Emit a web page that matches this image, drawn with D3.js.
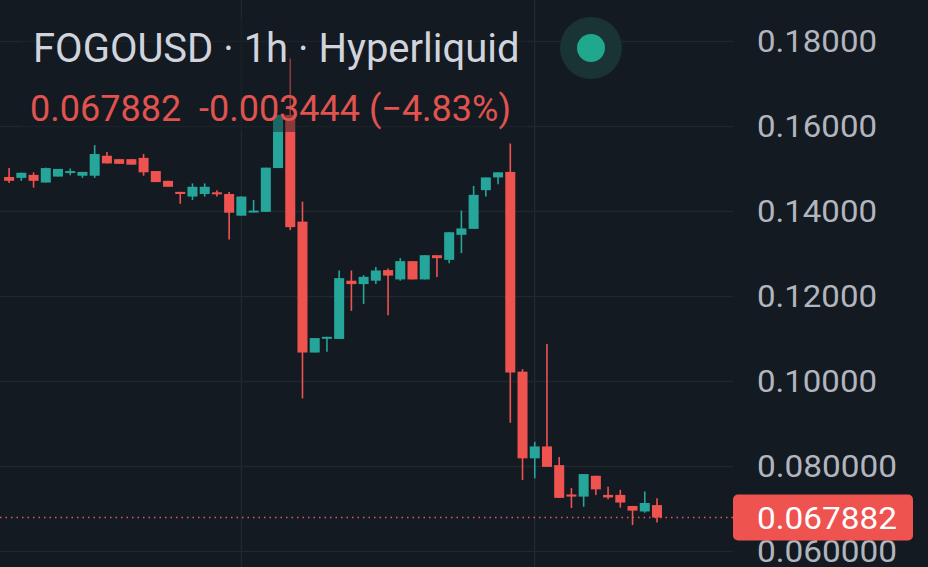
<!DOCTYPE html>
<html lang="en">
<head>
<meta charset="utf-8" />
<title>FOGOUSD 1h</title>
<script src="https://d3js.org/d3.v7.min.js"></script>
<style>
  html, body { margin: 0; padding: 0; background: #131a21; }
  svg { display: block; font-family: Roboto, 'Noto Sans', sans-serif; }
</style>
</head>
<body>
<svg id="chart" width="928" height="567"></svg>
<script>
// hourly candles
var opens = [0.1480, 0.1478, 0.1485, 0.1467, 0.1481, 0.1490, 0.1483, 0.1483, 0.1530, 0.1522,
             0.1522, 0.1525, 0.1494, 0.1471, 0.1445, 0.1434, 0.1440, 0.1444, 0.1440, 0.1389,
             0.1397, 0.1398, 0.1501, 0.1626, 0.1375, 0.1067, 0.1100, 0.1099, 0.1236, 0.1228,
             0.1236, 0.1261, 0.1239, 0.1282, 0.1239, 0.1296, 0.1285, 0.1344, 0.1358, 0.1449,
             0.1479, 0.1492, 0.1022, 0.0818, 0.0846, 0.0802, 0.0733, 0.0728, 0.0777, 0.0732,
             0.0732, 0.0706, 0.0693, 0.0708];
var highs = [0.1501, 0.1490, 0.1491, 0.1502, 0.1499, 0.1500, 0.1492, 0.1555, 0.1539, 0.1522,
             0.1522, 0.1534, 0.1494, 0.1471, 0.1445, 0.1465, 0.1465, 0.1449, 0.1445, 0.1434,
             0.1426, 0.1502, 0.1626, 0.1759, 0.1422, 0.1101, 0.1104, 0.1260, 0.1260, 0.1249,
             0.1268, 0.1265, 0.1289, 0.1282, 0.1296, 0.1296, 0.1350, 0.1401, 0.1459, 0.1479,
             0.1491, 0.1559, 0.1028, 0.0857, 0.1087, 0.0821, 0.0748, 0.0781, 0.0777, 0.0751,
             0.0744, 0.0706, 0.0740, 0.0724];
var lows = [0.1466, 0.1471, 0.1455, 0.1467, 0.1481, 0.1484, 0.1478, 0.1478, 0.1512, 0.1511,
            0.1509, 0.1483, 0.1468, 0.1457, 0.1417, 0.1426, 0.1434, 0.1434, 0.1333, 0.1389,
            0.1397, 0.1398, 0.1501, 0.1355, 0.0959, 0.1067, 0.1069, 0.1099, 0.1165, 0.1181,
            0.1228, 0.1155, 0.1236, 0.1239, 0.1239, 0.1245, 0.1277, 0.1301, 0.1358, 0.1434,
            0.1463, 0.0902, 0.0767, 0.0771, 0.0798, 0.0725, 0.0701, 0.0704, 0.0732, 0.0722,
            0.0702, 0.0661, 0.0690, 0.0667];
var closes = [0.1471, 0.1490, 0.1471, 0.1501, 0.1499, 0.1494, 0.1492, 0.1534, 0.1512, 0.1511,
              0.1509, 0.1491, 0.1468, 0.1457, 0.1440, 0.1457, 0.1457, 0.1440, 0.1396, 0.1434,
              0.1401, 0.1502, 0.1626, 0.1362, 0.1067, 0.1101, 0.1104, 0.1242, 0.1228, 0.1245,
              0.1260, 0.1248, 0.1282, 0.1239, 0.1296, 0.1289, 0.1350, 0.1359, 0.1438, 0.1479,
              0.1491, 0.1020, 0.0818, 0.0846, 0.0798, 0.0725, 0.0728, 0.0781, 0.0745, 0.0726,
              0.0714, 0.0695, 0.0713, 0.067882];

var tickValues = [0.18, 0.16, 0.14, 0.12, 0.10, 0.08, 0.06];
var tickLabels = ['0.18000', '0.16000', '0.14000', '0.12000', '0.10000', '0.080000', '0.060000'];
var dayBreaks = [19, 43]; // candle index where a new day starts

var symbol = 'FOGOUSD · 1h · Hyperliquid';
var lastPrice = 0.067882;
var change = '-0.003444';
var changePct = '(−4.83%)';

var upColor = '#26a69a';
var downColor = '#ef5350';
var bg = '#131a21';
var gridColor = '#1f272f';

var width = 928, height = 567;
var plotRight = 733;

var candles = opens.map(function (o, i) {
  return { i: i, o: o, h: highs[i], l: lows[i], c: closes[i] };
});

var svg = d3.select('#chart');

svg.append('rect')
  .attr('width', width)
  .attr('height', height)
  .attr('fill', bg);

var x = d3.scaleBand()
  .domain(d3.range(candles.length))
  .range([1.9, 664.2])
  .padding(0.18);

var y = d3.scaleLinear()
  .domain([0.06, 0.18])
  .range([551, 41]);

// grid
svg.append('g')
  .selectAll('line')
  .data(tickValues)
  .join('line')
  .attr('x1', 0)
  .attr('x2', plotRight)
  .attr('y1', function (d) { return Math.round(y(d)) + 0.5; })
  .attr('y2', function (d) { return Math.round(y(d)) + 0.5; })
  .attr('stroke', gridColor)
  .attr('stroke-width', 1.5);

svg.append('g')
  .selectAll('line')
  .data(dayBreaks)
  .join('line')
  .attr('x1', function (d) { return x(d) + x.bandwidth() / 2; })
  .attr('x2', function (d) { return x(d) + x.bandwidth() / 2; })
  .attr('y1', 0)
  .attr('y2', height)
  .attr('stroke', gridColor)
  .attr('stroke-width', 1.5);

// candles
var g = svg.append('g');
var candle = g.selectAll('g')
  .data(candles)
  .join('g');

candle.append('line')
  .attr('x1', function (d) { return x(d.i) + x.bandwidth() / 2; })
  .attr('x2', function (d) { return x(d.i) + x.bandwidth() / 2; })
  .attr('y1', function (d) { return y(d.h); })
  .attr('y2', function (d) { return y(d.l); })
  .attr('stroke', function (d) { return d.c >= d.o ? upColor : downColor; })
  .attr('stroke-width', 1.6);

candle.append('rect')
  .attr('x', function (d) { return x(d.i); })
  .attr('width', x.bandwidth())
  .attr('y', function (d) { return y(Math.max(d.o, d.c)); })
  .attr('height', function (d) { return Math.max(2, Math.abs(y(d.o) - y(d.c))); })
  .attr('fill', function (d) { return d.c >= d.o ? upColor : downColor; });

// legend backdrop dims the candles under it
svg.append('rect')
  .attr('x', 22)
  .attr('y', 18)
  .attr('width', 505)
  .attr('height', 114)
  .attr('fill', bg)
  .attr('opacity', 0.45);

// last price line
svg.append('line')
  .attr('x1', 0)
  .attr('x2', plotRight)
  .attr('y1', y(lastPrice))
  .attr('y2', y(lastPrice))
  .attr('stroke', downColor)
  .attr('stroke-width', 1.5)
  .attr('stroke-dasharray', '1.5,4');

// price axis labels
svg.append('g')
  .selectAll('text')
  .data(tickValues)
  .join('text')
  .attr('x', 757)
  .attr('y', function (d) { return y(d); })
  .attr('dy', '0.36em')
  .attr('fill', '#b2b5be')
  .attr('font-size', 31)
  .attr('textLength', function (d, i) { return tickLabels[i].length === 7 ? 120 : 140; })
  .attr('lengthAdjust', 'spacingAndGlyphs')
  .text(function (d, i) { return tickLabels[i]; });

svg.append('rect')
  .attr('x', 733)
  .attr('y', y(lastPrice) - 23)
  .attr('width', 180)
  .attr('height', 46)
  .attr('rx', 5)
  .attr('fill', downColor);

svg.append('text')
  .attr('x', 757)
  .attr('y', y(lastPrice))
  .attr('dy', '0.36em')
  .attr('fill', '#ffffff')
  .attr('font-size', 31)
  .attr('textLength', 140)
  .attr('lengthAdjust', 'spacingAndGlyphs')
  .text(lastPrice.toFixed(6));

// header
svg.append('text')
  .attr('x', 33)
  .attr('y', 62)
  .attr('fill', '#d1d4dc')
  .attr('font-size', 40)
  .text(symbol);

svg.append('text')
  .attr('x', 30)
  .attr('y', 121)
  .attr('fill', '#e0534f')
  .attr('font-size', 36)
  .attr('xml:space', 'preserve')
  .text(lastPrice.toFixed(6) + '  ' + change + ' ' + changePct);

svg.append('circle')
  .attr('cx', 591)
  .attr('cy', 48)
  .attr('r', 31)
  .attr('fill', '#1a3334');

svg.append('circle')
  .attr('cx', 591)
  .attr('cy', 48)
  .attr('r', 14)
  .attr('fill', '#1fa88e');
</script>
</body>
</html>
